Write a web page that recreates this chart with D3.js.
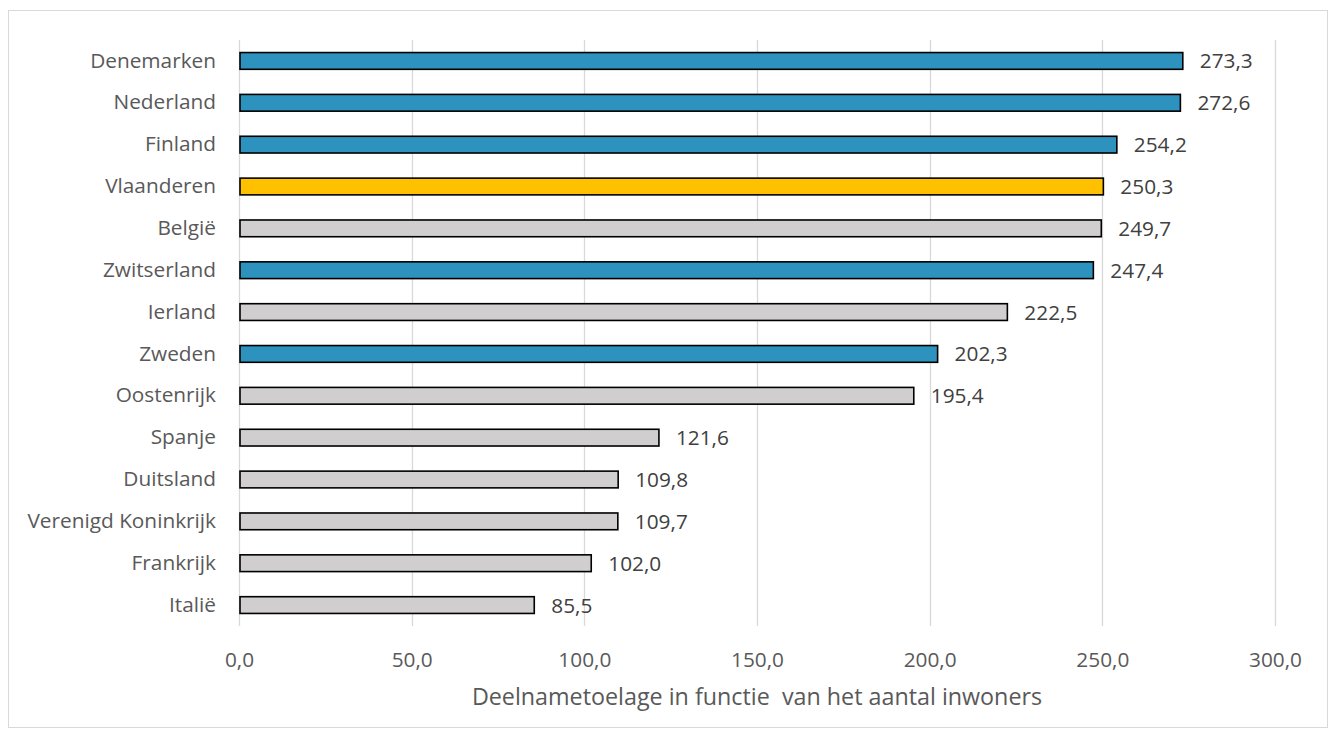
<!DOCTYPE html>
<html>
<head>
<meta charset="utf-8">
<script src="https://cdn.jsdelivr.net/npm/d3@7"></script>
<style>
  html, body { margin: 0; padding: 0; background: #fff; }
  svg { display: block; font-family: "Open Sans", sans-serif; }
</style>
</head>
<body>
<svg id="chart" width="1335" height="737"></svg>
<script>
// Countries, top to bottom
const countries = ["Denemarken", "Nederland", "Finland", "Vlaanderen", "België", "Zwitserland",
  "Ierland", "Zweden", "Oostenrijk", "Spanje", "Duitsland", "Verenigd Koninkrijk", "Frankrijk", "Italië"];
// Participation allowance per inhabitant
const values = [273.3, 272.6, 254.2, 250.3, 249.7, 247.4, 222.5, 202.3, 195.4, 121.6, 109.8, 109.7, 102.0, 85.5];
// Fill group per country: "blue" = highlighted, "flanders", "other"
const groups = ["blue", "blue", "blue", "flanders", "other", "blue", "other", "blue", "other", "other", "other", "other", "other", "other"];
const xTicks = [0, 50, 100, 150, 200, 250, 300];
const axisTitle = "Deelnametoelage in functie  van het aantal inwoners";

const fills = { blue: "#2E92BE", flanders: "#FFC000", other: "#D0CECE" };
const fmt = v => d3.format(".1f")(v).replace(".", ",");
const labelSize = 20.8;

const svg = d3.select("#chart");

// chart frame
svg.append("rect")
  .attr("x", 8.5).attr("y", 10.5).attr("width", 1319).attr("height", 717)
  .attr("fill", "#fff").attr("stroke", "#D9D9D9").attr("stroke-width", 1);

const plot = { left: 239, right: 1275, top: 40, bottom: 626 };

const x = d3.scaleLinear().domain([0, 300]).range([plot.left, plot.right]);
const y = d3.scaleBand().domain(countries).range([plot.top, plot.bottom]).paddingInner(0.6).paddingOuter(0.3);

// vertical gridlines
svg.append("g").selectAll("line").data(xTicks).join("line")
  .attr("x1", d => Math.round(x(d)) + 0.5).attr("x2", d => Math.round(x(d)) + 0.5)
  .attr("y1", plot.top).attr("y2", plot.bottom)
  .attr("stroke", "#D9D9D9").attr("stroke-width", 1.3);

// x axis tick labels
const xAxis = d3.axisBottom(x).tickValues(xTicks).tickFormat(fmt).tickSize(0).tickPadding(0);
const gx = svg.append("g").attr("transform", `translate(0, ${plot.bottom + 26})`).call(xAxis);
gx.select(".domain").remove();
gx.selectAll("text").attr("font-size", labelSize).attr("fill", "#595959")
  .attr("font-family", "Open Sans, sans-serif");

// y axis category labels
const yAxis = d3.axisLeft(y).tickSize(0).tickPadding(0);
const gy = svg.append("g").attr("transform", `translate(${plot.left - 23}, 0)`).call(yAxis);
gy.select(".domain").remove();
gy.selectAll("text").attr("font-size", labelSize).attr("fill", "#595959")
  .attr("font-family", "Open Sans, sans-serif");

// bars
const data = countries.map((c, i) => ({ c, v: values[i], g: groups[i] }));
svg.append("g").selectAll("rect").data(data).join("rect")
  .attr("x", x(0) + 1)
  .attr("y", d => y(d.c))
  .attr("width", d => x(d.v) - x(0) - 1)
  .attr("height", y.bandwidth())
  .attr("fill", d => fills[d.g])
  .attr("stroke", "#000").attr("stroke-width", 1.6);

// value labels
svg.append("g").selectAll("text").data(data).join("text")
  .attr("x", d => x(d.v) + 17)
  .attr("y", d => y(d.c) + y.bandwidth() / 2)
  .attr("dy", "0.36em")
  .attr("font-size", labelSize).attr("fill", "#404040")
  .text(d => fmt(d.v));

// axis title
svg.append("text")
  .attr("x", (plot.left + plot.right) / 2)
  .attr("y", 705)
  .attr("text-anchor", "middle")
  .attr("font-size", 23.3).attr("fill", "#595959")
  .style("white-space", "pre")
  .text(axisTitle);
</script>
</body>
</html>
